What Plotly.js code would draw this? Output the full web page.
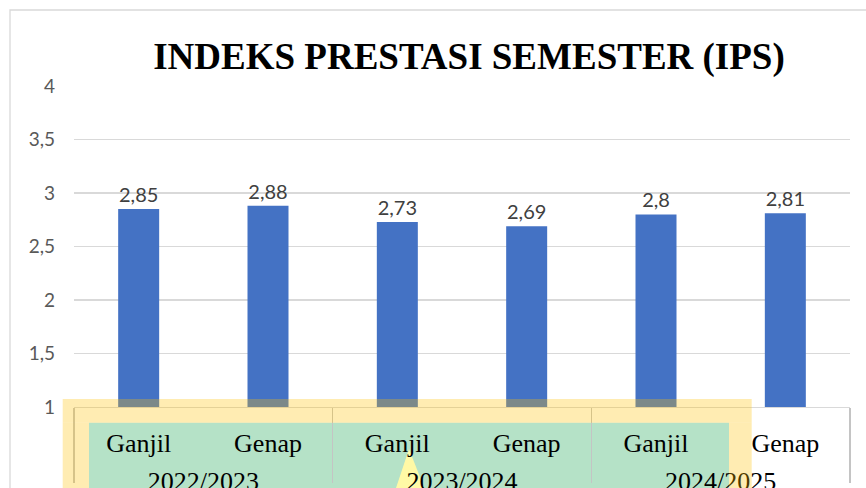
<!DOCTYPE html>
<html>
<head>
<meta charset="utf-8">
<script src="https://cdn.plot.ly/plotly-3.0.1.min.js"></script>
<style>html,body{margin:0;padding:0;background:#fff;}#chart{width:866px;height:488px;}</style>
</head>
<body>
<div id="chart"></div>
<script>
// ---- data ----
const years = ["2022/2023", "2022/2023", "2023/2024", "2023/2024", "2024/2025", "2024/2025"];
const semesters = ["Ganjil", "Genap", "Ganjil", "Genap", "Ganjil", "Genap"];
const ips = [2.85, 2.88, 2.73, 2.69, 2.8, 2.81];
const titleText = "INDEKS PRESTASI SEMESTER (IPS)";

// derived: bar slots, year groups, group boundaries
const idx = semesters.map((_, i) => i);
const labels = ips.map(v => String(v).replace('.', ','));
const yearNames = [...new Set(years)];
const yearCenters = yearNames.map(y => {
  const ids = idx.filter(i => years[i] === y);
  return (ids[0] + ids[ids.length - 1]) / 2;
});
const bounds = [-0.5].concat(yearNames.map(y => {
  const ids = idx.filter(i => years[i] === y);
  return ids[ids.length - 1] + 0.5;
}));
const xRange = [-0.5, idx.length - 0.5];

// pixel -> paper helpers (plot area: x 74..850, y 86..407)
const L = 74, R = 850, T = 86, B = 407;
const px = p => (p - L) / (R - L);
const py = p => (B - p) / (B - T);

const SERIF = '"Liberation Serif", "Times New Roman", Times, serif';

const bars = {
  type: 'bar',
  x: idx,
  y: ips,
  text: labels,
  textposition: 'outside',
  textfont: {family: 'Lato', size: 20, color: '#404040'},
  marker: {color: '#4472C4'},
  width: 0.317,
  cliponaxis: false,
  hoverinfo: 'skip'
};
// empty helper traces so the overlay axes (year row, dividers) exist
const yearAxisTrace = {type: 'scatter', x: [], y: [], xaxis: 'x2', yaxis: 'y', hoverinfo: 'skip', showlegend: false};
const dividerAxisTrace = {type: 'scatter', x: [], y: [], xaxis: 'x3', yaxis: 'y', hoverinfo: 'skip', showlegend: false};

const yellow = 'rgba(255,192,0,0.3)';
const shapes = [
  // outer chart frame
  {type: 'rect', xref: 'paper', yref: 'paper', x0: px(10), x1: 1.2, y0: -0.5, y1: py(10),
   line: {color: '#d9d9d9', width: 1.3}, fillcolor: 'rgba(0,0,0,0)', layer: 'below'},
  // green highlight (under the labels)
  {type: 'rect', xref: 'paper', yref: 'paper', x0: px(89), x1: px(729), y0: py(520), y1: py(422.7),
   line: {width: 0}, fillcolor: '#B5E2C7', layer: 'below'},
  // pale yellow spike
  {type: 'path', xref: 'paper', yref: 'paper',
   path: `M ${px(409)},${py(449)} L ${px(392)},${py(500)} L ${px(429)},${py(500)} Z`,
   line: {width: 0}, fillcolor: '#FFF9A6', layer: 'below'},
  // translucent yellow frame (top, left, right strips)
  {type: 'rect', xref: 'paper', yref: 'paper', x0: px(62.7), x1: px(751.7), y0: py(422.7), y1: py(399),
   line: {width: 0}, fillcolor: yellow, layer: 'above'},
  {type: 'rect', xref: 'paper', yref: 'paper', x0: px(62.7), x1: px(89), y0: py(520), y1: py(422.7),
   line: {width: 0}, fillcolor: yellow, layer: 'above'},
  {type: 'rect', xref: 'paper', yref: 'paper', x0: px(729), x1: px(751.7), y0: py(520), y1: py(422.7),
   line: {width: 0}, fillcolor: yellow, layer: 'above'}
];

const axisFont = {family: SERIF, size: 26, color: '#000000'};

const layout = {
  width: 866, height: 488,
  margin: {l: L, r: 866 - R, t: T, b: 488 - B, pad: 0},
  paper_bgcolor: '#ffffff',
  plot_bgcolor: '#ffffff',
  font: {family: SERIF, size: 26, color: '#000000'},
  separators: ', ',
  showlegend: false,
  title: {
    text: '<b>' + titleText + '</b>',
    font: {family: SERIF, size: 37, color: '#000000'},
    x: 469 / 866, xref: 'container', xanchor: 'center',
    y: 1 - 56 / 488, yref: 'container', yanchor: 'middle'
  },
  xaxis: {
    range: xRange,
    tickmode: 'array', tickvals: idx, ticktext: semesters,
    showline: true, linecolor: '#d9d9d9', linewidth: 1.3,
    showgrid: false, zeroline: false,
    ticks: '',
    ticklabelstandoff: 12,
    tickfont: axisFont,
    fixedrange: true
  },
  xaxis2: {
    overlaying: 'x', anchor: 'y', side: 'bottom',
    range: xRange,
    tickmode: 'array', tickvals: yearCenters, ticktext: yearNames,
    showline: false, showgrid: false, zeroline: false,
    ticks: '',
    ticklabelstandoff: 56,
    tickfont: axisFont,
    fixedrange: true
  },
  xaxis3: {
    overlaying: 'x', anchor: 'y', side: 'bottom',
    range: xRange,
    tickmode: 'array', tickvals: bounds,
    showticklabels: false,
    showline: false, showgrid: false, zeroline: false,
    ticks: 'outside', ticklen: 75, tickwidth: 1.3, tickcolor: '#c4c4c4',
    fixedrange: true
  },
  yaxis: {
    range: [1, 4], tick0: 1, dtick: 0.5,
    showgrid: true, gridcolor: '#d9d9d9', gridwidth: 1.3,
    zeroline: false, showline: false,
    ticks: '',
    ticklabelstandoff: 18,
    tickfont: {family: 'Lato', size: 19, color: '#595959'},
    fixedrange: true
  },
  shapes: shapes
};

Plotly.newPlot('chart', [bars, yearAxisTrace, dividerAxisTrace], layout, {staticPlot: true, displayModeBar: false});
</script>
</body>
</html>
